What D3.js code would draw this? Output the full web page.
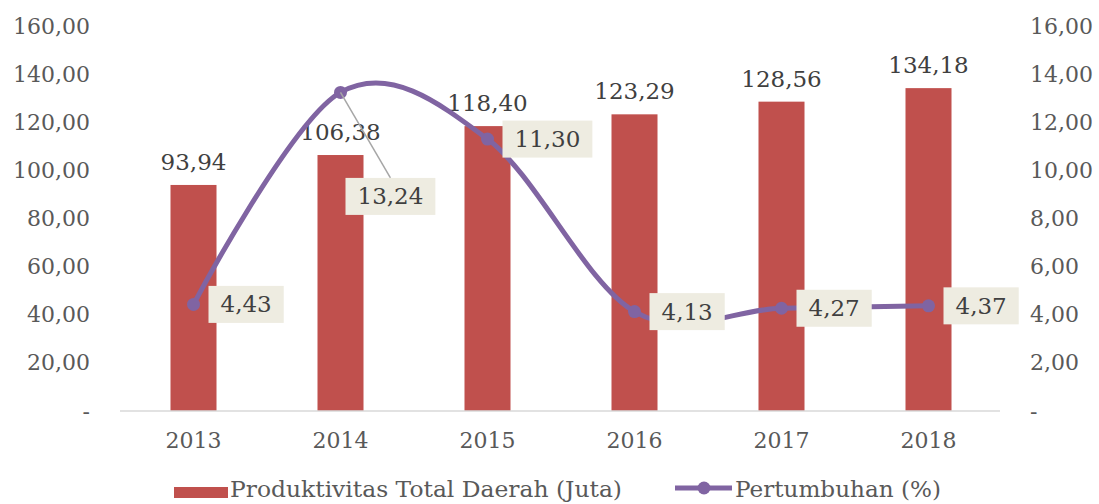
<!DOCTYPE html>
<html>
<head>
<meta charset="utf-8">
<script src="https://cdn.jsdelivr.net/npm/d3@7"></script>
<style>
  html, body { margin: 0; padding: 0; background: #fff; }
  svg { display: block; font-family: "DejaVu Serif", "Liberation Serif", serif; }
</style>
</head>
<body>
<svg id="chart" width="1099" height="504"></svg>
<script>
// Data
const years = ["2013", "2014", "2015", "2016", "2017", "2018"];
const productivity = [93.94, 106.38, 118.40, 123.29, 128.56, 134.18];
const growth = [4.43, 13.24, 11.30, 4.13, 4.27, 4.37];
const leftTicks = [0, 20, 40, 60, 80, 100, 120, 140, 160];
const rightTicks = [0, 2, 4, 6, 8, 10, 12, 14, 16];
const seriesNames = ["Produktivitas Total Daerah (Juta)", "Pertumbuhan (%)"];

const fmt = v => v === 0 ? "-" : v.toFixed(2).replace(".", ",");

const svg = d3.select("#chart");
const barColor = "#C0504D";
const lineColor = "#8064A2";

const x = d3.scaleBand().domain(years).range([120, 1002]).paddingInner(0.687).paddingOuter(0.3435);
const y = d3.scaleLinear().domain([0, 160]).range([411, 26]);
const y2 = d3.scaleLinear().domain([0, 16]).range([411, 26]);
const cx = d => x(d) + x.bandwidth() / 2;

// Left axis
const leftAxis = d3.axisLeft(y).tickValues(leftTicks).tickFormat(fmt).tickSize(0).tickPadding(0);
const gl = svg.append("g").attr("transform", "translate(90,0)").call(leftAxis);
gl.select(".domain").remove();
gl.selectAll("text").attr("fill", "#595959").style("font-size", "22px").style("font-family", "DejaVu Serif");

// Right axis
const rightAxis = d3.axisRight(y2).tickValues(rightTicks).tickFormat(fmt).tickSize(0).tickPadding(0);
const gr = svg.append("g").attr("transform", "translate(1030,0)").call(rightAxis);
gr.select(".domain").remove();
gr.selectAll("text").attr("fill", "#595959").style("font-size", "22px").style("font-family", "DejaVu Serif");

// Bars
svg.append("g").selectAll("rect").data(years).join("rect")
  .attr("x", d => x(d)).attr("width", x.bandwidth())
  .attr("y", (d, i) => y(productivity[i]))
  .attr("height", (d, i) => y(0) - y(productivity[i]))
  .attr("fill", barColor);

// Bottom axis
const bottomAxis = d3.axisBottom(x).tickSize(0).tickPadding(0);
const gb = svg.append("g").attr("transform", `translate(0,${y(0)})`).call(bottomAxis);
gb.select(".domain").attr("stroke", "#D9D9D9").attr("stroke-width", 1.5).attr("d", "M120,0H1000");
gb.selectAll("text").attr("fill", "#595959").attr("dy", null).attr("y", 37)
  .style("font-size", "22px").style("font-family", "DejaVu Serif");

// Bar value labels
svg.append("g").selectAll("text").data(years).join("text")
  .attr("x", d => cx(d)).attr("y", (d, i) => y(productivity[i]) - 15)
  .attr("text-anchor", "middle").attr("fill", "#404040").style("font-size", "23px")
  .text((d, i) => fmt(productivity[i]));

// Growth line
const pts = years.map((d, i) => [cx(d), y2(growth[i])]);
svg.append("path").datum(pts)
  .attr("d", d3.line().curve(d3.curveCardinal.tension(0)))
  .attr("fill", "none").attr("stroke", lineColor).attr("stroke-width", 5);
svg.append("g").selectAll("circle").data(pts).join("circle")
  .attr("cx", d => d[0]).attr("cy", d => d[1]).attr("r", 6.5).attr("fill", lineColor);

// Growth labels in boxes; the 2014 label is pulled down with a leader line
const labelShift = { "2014": { dx: 5, dy: 104 } };
const lg = svg.append("g");
years.forEach((yr, i) => {
  const [px, py] = pts[i];
  const s = labelShift[yr] || { dx: 15, dy: 0 };
  const g = lg.append("g");
  const t = g.append("text").attr("fill", "#404040").style("font-size", "23px").text(fmt(growth[i]));
  const w = t.node().getComputedTextLength() + 24;
  const h = 37;
  const bx = px + s.dx, by = py + s.dy - h / 2;
  if (labelShift[yr]) {
    lg.insert("line", ":first-child").attr("x1", px).attr("y1", py).attr("x2", bx + w / 2).attr("y2", by)
      .attr("stroke", "#A6A6A6").attr("stroke-width", 1.5);
  }
  g.insert("rect", "text").attr("x", bx).attr("y", by).attr("width", w).attr("height", h).attr("fill", "#EEECE1");
  t.attr("x", bx + w / 2).attr("y", by + h / 2 + 8).attr("text-anchor", "middle");
});

// Legend
const leg = svg.append("g");
leg.append("rect").attr("x", 174).attr("y", 487).attr("width", 54).attr("height", 11).attr("fill", barColor);
leg.append("text").attr("x", 230).attr("y", 497).attr("fill", "#595959").style("font-size", "22px")
  .attr("textLength", 392).attr("lengthAdjust", "spacingAndGlyphs").text(seriesNames[0]);
leg.append("line").attr("x1", 675).attr("x2", 732).attr("y1", 488).attr("y2", 488)
  .attr("stroke", lineColor).attr("stroke-width", 5);
leg.append("circle").attr("cx", 704).attr("cy", 488).attr("r", 6.5).attr("fill", lineColor);
leg.append("text").attr("x", 735).attr("y", 497).attr("fill", "#595959").style("font-size", "22px")
  .attr("textLength", 206).attr("lengthAdjust", "spacingAndGlyphs").text(seriesNames[1]);
</script>
</body>
</html>
